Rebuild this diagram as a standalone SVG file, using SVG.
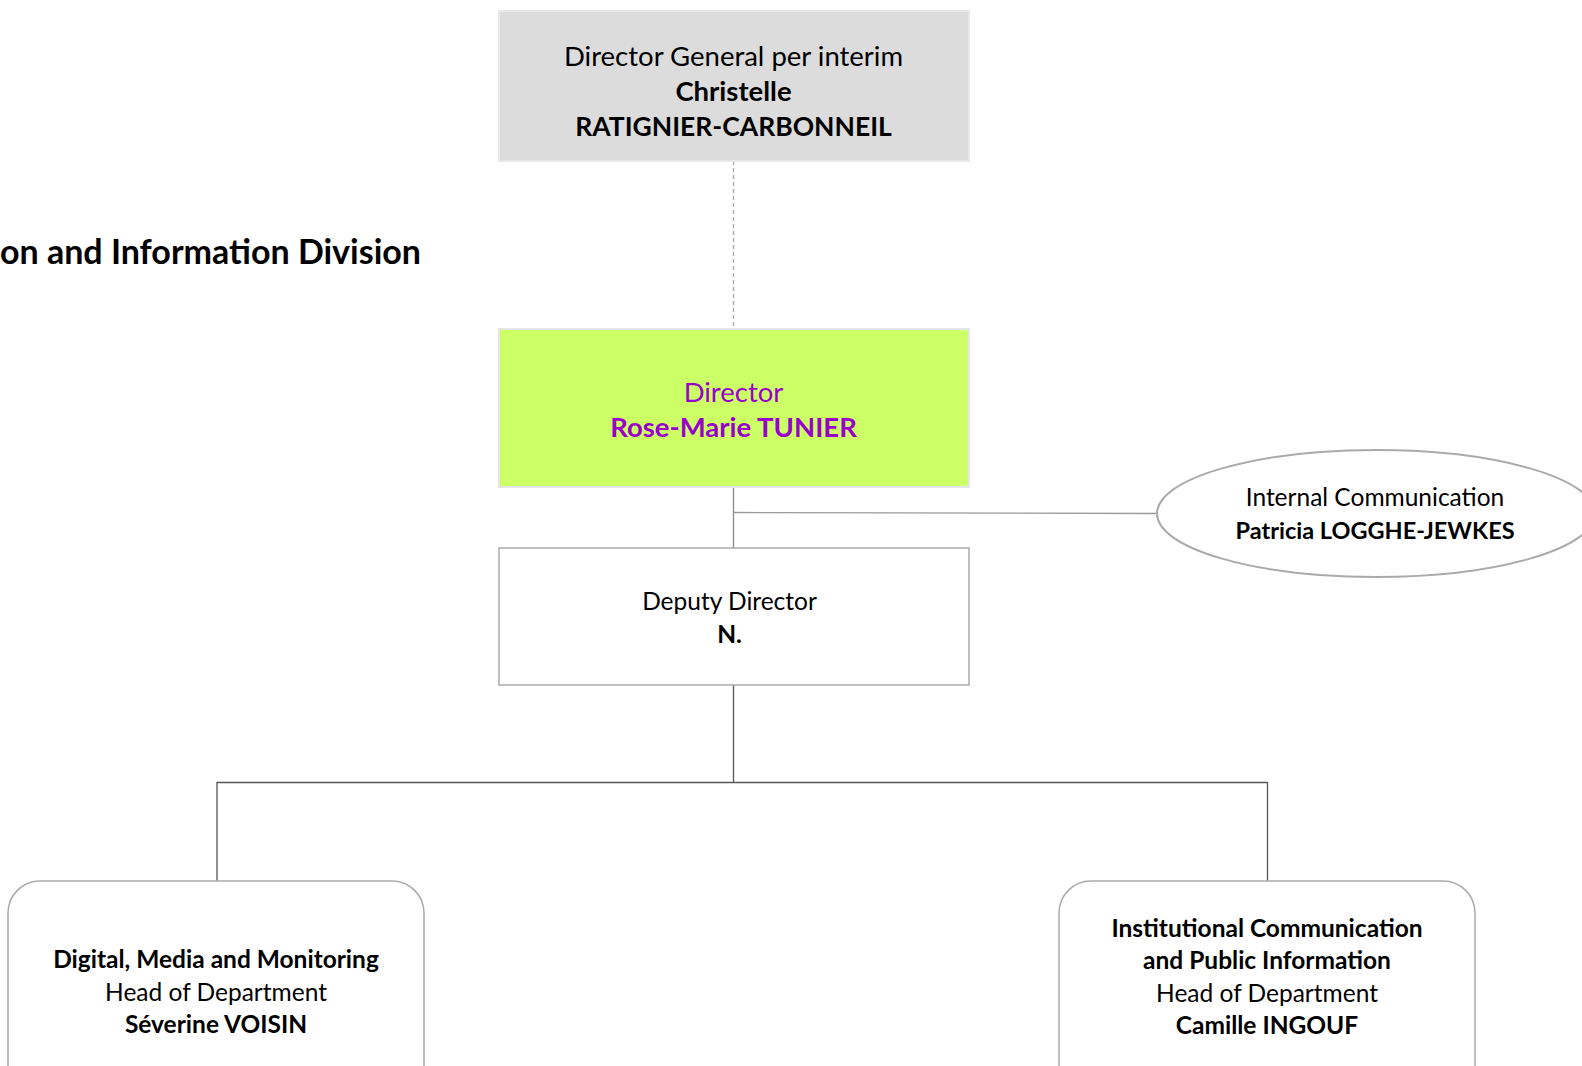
<svg xmlns="http://www.w3.org/2000/svg" width="1582" height="1066" viewBox="0 0 1582 1066">
<style>
text{font-family:Lato,"Open Sans","Liberation Sans",sans-serif;text-anchor:middle;fill:#000}
.b{font-weight:bold}
.t1{font-size:27.5px}
.t2{font-size:24.5px}
.p{fill:#9900cc}
.con{fill:none;stroke-width:1.3}
</style>
<rect width="1582" height="1066" fill="#fff"/>
<text x="421" y="264" class="b" style="font-size:34px;text-anchor:end">on and Information Division</text>
<g id="connectors">
<line class="con" x1="733.5" y1="161" x2="733.5" y2="329" stroke="#aaa" stroke-dasharray="4,3"/>
<line class="con" x1="733.5" y1="487" x2="733.5" y2="548" stroke="#888"/>
<line class="con" x1="733.5" y1="512.5" x2="1157" y2="513.5" stroke="#999"/>
<path class="con" d="M733.5 685V782.5M217 881V782.5H1267.5V881" stroke="#555"/>
</g>
<g id="dg">
<rect x="499" y="11" width="470" height="150" fill="#dcdcdc" stroke="#e8e8e8" stroke-width="2"/>
<text x="733.5" y="65.5" class="t1">Director General per interim</text>
<text x="733.5" y="101" class="t1 b">Christelle</text>
<text x="733.5" y="136" class="t1 b" style="font-size:26.5px">RATIGNIER-CARBONNEIL</text>
</g>
<g id="director">
<rect x="499" y="329" width="470" height="158" fill="#ccff66" stroke="#e6e6e6" stroke-width="2"/>
<text x="733.5" y="401.5" class="t1 p">Director</text>
<text x="733.5" y="437" class="t1 b p">Rose-Marie TUNIER</text>
</g>
<g id="internal">
<ellipse cx="1376" cy="513.5" rx="219" ry="63.5" fill="#fff" stroke="#aaa" stroke-width="2"/>
<text x="1375" y="506" class="t2">Internal Communication</text>
<text x="1375" y="538.5" class="t2 b" style="font-size:23.5px">Patricia LOGGHE-JEWKES</text>
</g>
<g id="deputy">
<rect x="499" y="548" width="470" height="137" fill="#fff" stroke="#aaa" stroke-width="1.5"/>
<text x="729.5" y="610" class="t2">Deputy Director</text>
<text x="729.5" y="642.5" class="t2 b">N.</text>
</g>
<g id="digital">
<rect x="8" y="881" width="416" height="220" rx="32" fill="#fff" stroke="#aaa" stroke-width="1.5"/>
<text x="216" y="968" class="t2 b">Digital, Media and Monitoring</text>
<text x="216" y="1000.5" class="t2">Head of Department</text>
<text x="216" y="1033" class="t2 b">Séverine VOISIN</text>
</g>
<g id="institutional">
<rect x="1059" y="881" width="416" height="220" rx="32" fill="#fff" stroke="#aaa" stroke-width="1.5"/>
<text x="1267" y="937" class="t2 b">Institutional Communication</text>
<text x="1267" y="969" class="t2 b">and Public Information</text>
<text x="1267" y="1001.5" class="t2">Head of Department</text>
<text x="1267" y="1034" class="t2 b">Camille INGOUF</text>
</g>
</svg>
